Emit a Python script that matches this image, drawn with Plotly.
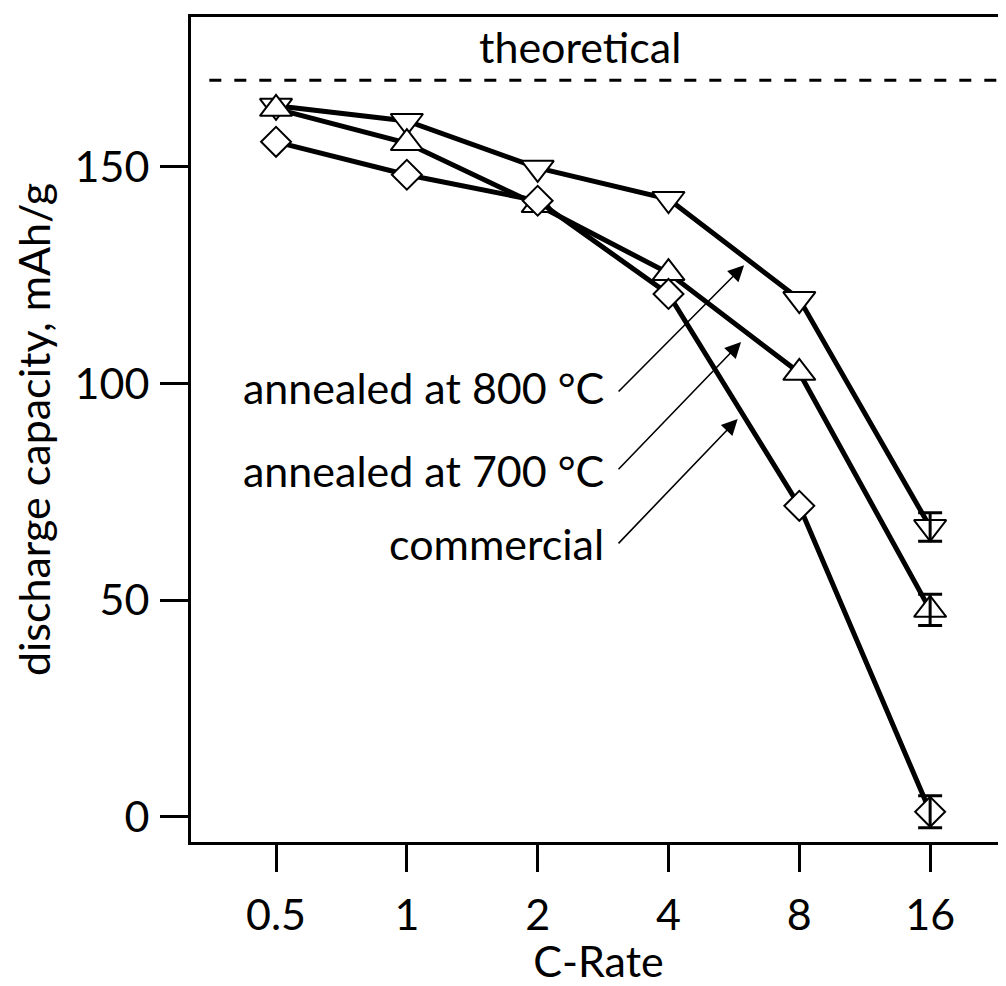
import plotly.graph_objects as go

# ---- data ----
c_rates = ["0.5", "1", "2", "4", "8", "16"]
cap_800 = [164.1, 160.6, 149.8, 142.6, 119.5, 66.9]
cap_700 = [163.4, 155.5, 141.2, 125.5, 102.5, 47.8]
cap_commercial = [155.8, 148.2, 142.2, 120.7, 71.8, 1.2]
# error bars are reported only at the 16C point
err_800_16c = 3.3
err_700_16c = 3.6
err_commercial_16c = 3.7
theoretical = 170
labels = ["annealed at 800 °C", "annealed at 700 °C", "commercial"]

FONT = "Lato"
FS = 43
xi = list(range(len(c_rates)))

fig = go.Figure()

series = [
    (cap_800, err_800_16c, "triangle-down", 28),
    (cap_700, err_700_16c, "triangle-up", 28),
    (cap_commercial, err_commercial_16c, "diamond", 23),
]
for vals, err, sym, sz in series:
    fig.add_trace(go.Scatter(
        x=xi, y=vals, mode="lines+markers",
        line=dict(color="black", width=5),
        marker=dict(symbol=sym, size=sz, color="white",
                    line=dict(color="black", width=2)),
        showlegend=False, hoverinfo="skip",
    ))
# error bars drawn on top of the markers (last point only)
for vals, err, sym, sz in series:
    fig.add_trace(go.Scatter(
        x=[xi[-1]], y=[vals[-1]], mode="markers",
        marker=dict(size=1, color="rgba(0,0,0,0)"),
        error_y=dict(type="data", array=[err], visible=True,
                     color="black", thickness=3, width=12),
        showlegend=False, hoverinfo="skip",
    ))

# theoretical dashed line
fig.add_shape(type="line", xref="x", yref="y",
              x0=-0.51, x1=5.6, y0=theoretical, y1=theoretical,
              line=dict(color="black", width=3, dash="12px,13px"))
fig.add_annotation(x=2.32, y=177.8, xref="x", yref="y", text="theoretical",
                   showarrow=False, font=dict(family=FONT, size=FS, color="black"))

# labels with arrows
label_y = [99.0, 80.0, 63.0]
tails = [(2.607, 97.85), (2.607, 79.9), (2.607, 62.8)]
tips = [(3.578, 127.3), (3.555, 109.6), (3.529, 91.85)]
for lab, ly, (tx, ty), (hx, hy) in zip(labels, label_y, tails, tips):
    fig.add_annotation(x=2.52, y=ly, xref="x", yref="y", text=lab,
                       xanchor="right", showarrow=False,
                       font=dict(family=FONT, size=FS, color="black"))
    fig.add_annotation(x=hx, y=hy, ax=tx, ay=ty, xref="x", yref="y",
                       axref="x", ayref="y", text="", showarrow=True,
                       arrowhead=2, arrowsize=2.0, arrowwidth=1.6,
                       arrowcolor="black")

# page has an 8px body margin: figure is sized to fit the 1006x986 window
fig.update_layout(
    width=998, height=978,
    margin=dict(l=183, r=0, t=9, b=144),
    paper_bgcolor="white", plot_bgcolor="white",
    font=dict(family=FONT, size=FS, color="black"),
    xaxis=dict(
        range=[-0.65, 5.58], tickmode="array", tickvals=xi, ticktext=c_rates,
        showgrid=False, zeroline=False, showline=True, linecolor="black",
        linewidth=3, mirror=True, ticks="outside", ticklen=27, tickwidth=3,
        tickcolor="black", ticklabelstandoff=6,
        tickfont=dict(family=FONT, size=FS, color="black"),
        title=dict(text="C-Rate", standoff=6,
                   font=dict(family=FONT, size=FS, color="black")),
    ),
    yaxis=dict(
        range=[-5.77, 184.6], tickmode="array", tickvals=[0, 50, 100, 150],
        showgrid=False, zeroline=False, showline=True, linecolor="black",
        linewidth=3, mirror=False, ticks="outside", ticklen=28, tickwidth=3,
        tickcolor="black", ticklabelstandoff=2,
        tickfont=dict(family=FONT, size=FS, color="black"),
        title=dict(text="discharge capacity, mAh/g", standoff=18,
                   font=dict(family=FONT, size=FS, color="black")),
    ),
)

fig.write_html("out.html")
